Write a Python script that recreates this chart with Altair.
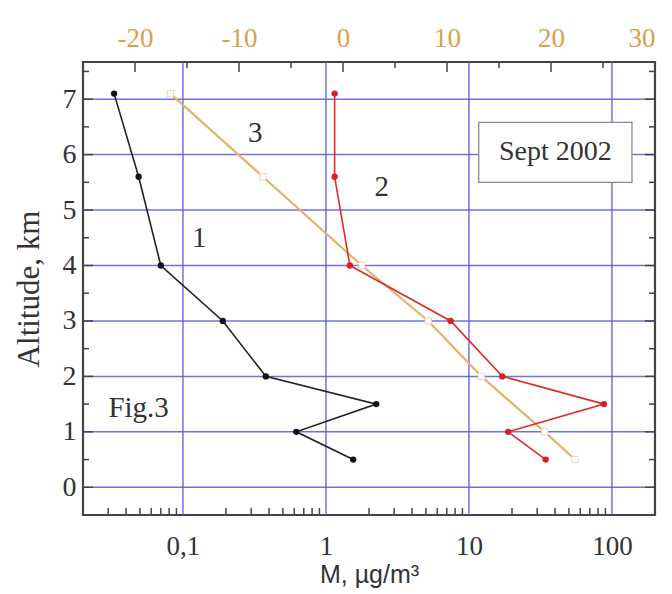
import altair as alt
import pandas as pd

# ---- data ----
alt1 = [7.1, 5.6, 4.0, 3.0, 2.0, 1.5, 1.0, 0.5]
m1 = [0.033, 0.049, 0.070, 0.19, 0.38, 2.25, 0.62, 1.55]

alt2 = [7.1, 5.6, 4.0, 3.0, 2.0, 1.5, 1.0, 0.5]
m2 = [1.15, 1.15, 1.47, 7.45, 17.1, 88.0, 18.8, 34.4]

alt3 = [7.1, 5.6, 4.0, 3.0, 2.0, 1.0, 0.5]
v3 = [-16.6, -7.7, 1.8, 8.2, 13.3, 19.4, 22.3]

curve_labels = ["1", "2", "3", "Fig.3"]
curve_label_x = [0.13, 2.46, 0.32, 0.049]
curve_label_y = [4.5, 5.41, 6.39, 1.43]

box_text = ["Sept 2002"]
box_x = [11.7]
box_x2 = [138.0]
box_y = [6.58]
box_y2 = [5.5]

y_grid = [0, 1, 2, 3, 4, 5, 6, 7]
y_minor = [-0.5, 0.5, 1.5, 2.5, 3.5, 4.5, 5.5, 6.5, 7.5]
x_grid = [0.1, 1, 10, 100]
x_grid_labels = ["0,1", "1", "10", "100"]
x_minor = [0.02, 0.03, 0.04, 0.05, 0.06, 0.07, 0.08, 0.09,
           0.2, 0.3, 0.4, 0.5, 0.6, 0.7, 0.8, 0.9,
           2, 3, 4, 5, 6, 7, 8, 9,
           20, 30, 40, 50, 60, 70, 80, 90]
top_major = [-20, -10, 0, 10, 20]
top_minor = [-15, -5, 5, 15, 25]
top_labels = [-20, -10, 0, 10, 20, 30]

# ---- styling ----
W, H = 572, 453
SERIF = "Liberation Serif"
GRID = "#5858E0"
ORANGE_TXT = "#D9A24A"
ORANGE_LN = "#E2B46A"

xlog = alt.Scale(type="log", domain=[0.02, 200], nice=False)
xlin = alt.Scale(type="linear", domain=[-25, 30], nice=False, zero=False)
ysc = alt.Scale(domain=[-0.5, 7.67], nice=False, zero=False)

df1 = pd.DataFrame({"m": m1, "alt": alt1, "order": range(len(m1))})
df2 = pd.DataFrame({"m": m2, "alt": alt2, "order": range(len(m2))})
df3 = pd.DataFrame({"v": v3, "alt": alt3, "order": range(len(v3))})

label_map = "{" + ",".join(f"'{v}':'{l}'" for v, l in zip(x_grid, x_grid_labels)) + "}"

# gridlines (+ main axes)
hgrid = alt.Chart(pd.DataFrame({"y": y_grid})).mark_rule(color=GRID, strokeWidth=1.5, opacity=0.85).encode(
    y=alt.Y("y:Q", scale=ysc,
            axis=alt.Axis(values=y_grid, ticks=False, domain=False, grid=False,
                          labelFont=SERIF, labelFontSize=28, labelColor="#333",
                          labelPadding=7, title="Altitude, km", titleFont=SERIF,
                          titleFontSize=31, titleFontWeight="normal", titleColor="#333",
                          titlePadding=17))
)
vgrid = alt.Chart(pd.DataFrame({"x": x_grid})).mark_rule(color=GRID, strokeWidth=1.5, opacity=0.85).encode(
    x=alt.X("x:Q", scale=xlog,
            axis=alt.Axis(values=x_grid, ticks=False, domain=False, grid=False,
                          labelExpr=f"{label_map}[toString(datum.value)]",
                          labelFont=SERIF, labelFontSize=27, labelColor="#333",
                          labelPadding=18, title="M, µg/m³", titleFont="Liberation Sans",
                          titleFontSize=25, titleFontWeight="normal", titleColor="#333",
                          titlePadding=3))
)

# ticks
def yticks(vals, length):
    d = pd.DataFrame({"y": vals})
    left = alt.Chart(d).mark_rule(color="#444", strokeWidth=1.5).encode(
        y=alt.Y("y:Q", scale=ysc, axis=None), x=alt.value(0), x2=alt.value(length))
    right = alt.Chart(d).mark_rule(color="#444", strokeWidth=1.5).encode(
        y=alt.Y("y:Q", scale=ysc, axis=None), x=alt.value(W - length), x2=alt.value(W))
    return [left, right]

bticks = alt.Chart(pd.DataFrame({"x": x_minor})).mark_rule(color="#444", strokeWidth=1.5).encode(
    x=alt.X("x:Q", scale=xlog, axis=None), y=alt.value(H), y2=alt.value(H - 7))

tmaj = alt.Chart(pd.DataFrame({"x": top_major})).mark_rule(color="#444", strokeWidth=1.5).encode(
    x=alt.X("x:Q", scale=xlin, axis=None), y=alt.value(0), y2=alt.value(10))
tmin = alt.Chart(pd.DataFrame({"x": top_minor})).mark_rule(color="#444", strokeWidth=1.5).encode(
    x=alt.X("x:Q", scale=xlin, axis=None), y=alt.value(0), y2=alt.value(6))

# top axis (labels only)
top_axis = alt.Chart(pd.DataFrame({"x": top_labels})).mark_point(opacity=0).encode(
    x=alt.X("x:Q", scale=xlin,
            axis=alt.Axis(orient="top", values=top_labels, ticks=False, domain=False, grid=False,
                          labelExpr="toString(datum.value)", labelFont=SERIF, labelFontSize=27,
                          labelColor=ORANGE_TXT, labelPadding=10, title=None)),
    y=alt.value(0))

# series 3 (top scale)
s3_line = alt.Chart(df3).mark_line(color=ORANGE_LN, strokeWidth=2.2).encode(
    x=alt.X("v:Q", scale=xlin, axis=None), y=alt.Y("alt:Q", scale=ysc, axis=None), order="order:Q")
s3_pts = alt.Chart(df3).mark_point(shape="square", filled=True, fill="white", stroke="#E8D8B8",
                                   strokeWidth=1, size=40, opacity=1).encode(
    x=alt.X("v:Q", scale=xlin, axis=None), y=alt.Y("alt:Q", scale=ysc, axis=None))

# series 2
s2_line = alt.Chart(df2).mark_line(color="#E02828", strokeWidth=1.6).encode(
    x=alt.X("m:Q", scale=xlog, axis=None), y=alt.Y("alt:Q", scale=ysc, axis=None), order="order:Q")
s2_pts = alt.Chart(df2).mark_circle(color="#D91E1E", size=40, opacity=1).encode(
    x=alt.X("m:Q", scale=xlog, axis=None), y=alt.Y("alt:Q", scale=ysc, axis=None))

# series 1
s1_line = alt.Chart(df1).mark_line(color="#222", strokeWidth=1.6).encode(
    x=alt.X("m:Q", scale=xlog, axis=None), y=alt.Y("alt:Q", scale=ysc, axis=None), order="order:Q")
s1_pts = alt.Chart(df1).mark_circle(color="#111", size=40, opacity=1).encode(
    x=alt.X("m:Q", scale=xlog, axis=None), y=alt.Y("alt:Q", scale=ysc, axis=None))

# annotations
ann = alt.Chart(pd.DataFrame({"t": curve_labels, "x": curve_label_x, "y": curve_label_y})).mark_text(
    font=SERIF, fontSize=29, color="#333", align="center", baseline="middle").encode(
    x=alt.X("x:Q", scale=xlog, axis=None), y=alt.Y("y:Q", scale=ysc, axis=None), text="t:N")

box = alt.Chart(pd.DataFrame({"x": box_x, "x2": box_x2, "y": box_y, "y2": box_y2})).mark_rect(
    fill="white", stroke="#8a8a8a", strokeWidth=1.3).encode(
    x=alt.X("x:Q", scale=xlog, axis=None), x2="x2:Q",
    y=alt.Y("y:Q", scale=ysc, axis=None), y2="y2:Q")
box_txt = alt.Chart(pd.DataFrame({"t": box_text, "x": box_x, "x2": box_x2, "y": box_y, "y2": box_y2})).transform_calculate(
    cx="sqrt(datum.x*datum.x2)", cy="(datum.y+datum.y2)/2").mark_text(
    font=SERIF, fontSize=28, color="#333", align="center", baseline="middle").encode(
    x=alt.X("cx:Q", scale=xlog, axis=None), y=alt.Y("cy:Q", scale=ysc, axis=None), text="t:N")

layers = [hgrid, vgrid] + yticks(y_grid, 10) + yticks(y_minor, 6) + [bticks, tmaj, tmin, top_axis,
          s3_line, s3_pts, s2_line, s2_pts, s1_line, s1_pts, ann, box, box_txt]

chart = alt.layer(*layers).resolve_scale(x="independent").resolve_axis(y="independent").properties(
    width=W, height=H,
    autosize=alt.AutoSizeParams(type="none"),
    padding={"left": 83, "top": 62, "right": 17, "bottom": 79},
    background="white",
).configure_view(stroke="#444", strokeWidth=2.2)

chart.save("out.html", embed_options={"renderer": "svg", "actions": False})
